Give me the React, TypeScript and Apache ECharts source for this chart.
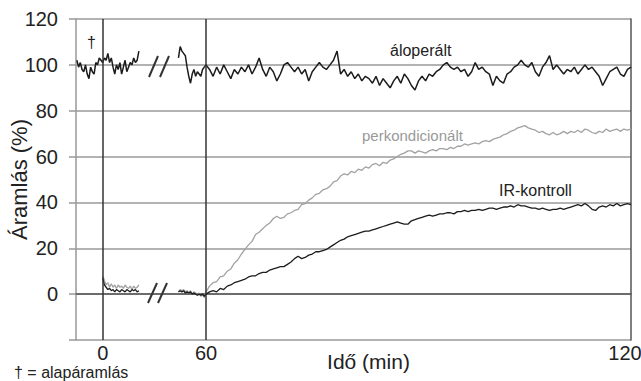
import React, { useEffect, useRef } from "react";
import * as echarts from "echarts";

// x tick positions (minutes) and their labels
const xTickTimes = [0, 60, 120];
const xTickLabels = ["0", "60", "120"];

// segment start times (min) and steps
const segAStart = -15; // sham baseline + early occlusion, step 1
const segAStep = 1;
const segIrAStart = 0;
const segBStart = 44; // after the axis break, step 1 up to 60
const segBStep = 1;
const segCStart = 60.5; // reperfusion, step 0.5
const segCStep = 0.5;

// áloperált (sham)
const shamA = [102, 99, 101, 98, 97, 100, 96, 94, 99, 97, 96, 101, 100, 103, 102, 101, 103, 102, 105, 101, 103, 99, 96, 100, 98, 101, 96, 99, 102, 97, 99, 101, 100, 103, 101, 102, 106];
const shamB = [103, 108, 106, 105, 104, 99, 95, 92, 96, 98, 95, 97, 96, 95, 98, 99, 100];
const shamC = [98, 95, 99, 96, 100, 97, 94, 98, 96, 99, 97, 100, 96, 99, 103, 98, 95, 99, 97, 93, 96, 100, 101, 99, 97, 99, 96, 98, 93, 97, 99, 101, 99, 98, 100, 102, 106, 96, 98, 95, 97, 94, 96, 93, 95, 94, 92, 95, 91, 94, 92, 90, 93, 95, 92, 96, 94, 91, 89, 93, 95, 93, 96, 95, 97, 98, 100, 101, 99, 98, 99, 97, 98, 95, 97, 101, 98, 99, 97, 96, 91, 95, 93, 92, 96, 97, 99, 100, 102, 100, 99, 101, 97, 95, 99, 101, 104, 98, 100, 98, 96, 98, 97, 99, 96, 98, 100, 98, 99, 97, 95, 91, 94, 97, 98, 99, 96, 95, 98, 99];

// IR-kontroll
const irA = [7, 4, 3, 2, 2.5, 1.5, 2, 1, 2, 1.5, 1, 2, 1.5, 1, 2, 1.5, 1, 2, 1.5, 2, 1, 1.5];
const irB = [1, 1.5, 1, 1.5, 0.5, 1, 0.5, 1, 0, 0.5, 0, -0.5, 0, -0.5, 0, -1, 0];
const irC = [1, 1.5, 1, 2.5, 2, 3.5, 4, 5, 5.5, 6, 6.5, 7.5, 8, 8, 9, 9.5, 9.5, 10.5, 11, 11.5, 12, 12, 13, 14, 15.5, 16.5, 15.5, 16, 17, 17.5, 18.5, 18.5, 19, 19.5, 20.5, 21.5, 22.5, 23.5, 24, 25, 25.5, 26, 26.5, 27, 27.5, 27.5, 28, 28.5, 29, 29.5, 30, 30.5, 31, 31.5, 31, 30.5, 30.5, 32, 32.5, 33, 33.5, 34, 34.5, 34, 34.5, 35, 35, 35.5, 35.5, 35, 36, 36, 36.5, 36, 36.5, 36.5, 37, 36.5, 37, 37.5, 37.5, 37, 37.5, 38, 38, 38.5, 38, 39, 38.5, 38.5, 38, 37.5, 37.5, 37, 37.5, 37, 36.5, 37, 37, 37.5, 37, 37.5, 38, 38.5, 39, 38.5, 39.5, 38.5, 37, 36.5, 38, 38.5, 38, 39, 38.5, 39.5, 38.5, 39, 39.5, 39];

// perkondicionált
const perkA = [8, 6, 4, 5, 3, 4.5, 3, 4, 2.5, 4, 3, 3.5, 2.5, 4, 3, 2.5, 3.5, 2, 3.5, 2.5, 3, 4];
const perkB = [1, 2, 1.5, 2, 1, 1.5, 0.5, 1.5, 0, 1, 0.5, -0.5, 0.5, -1, 0, -1.5, 1];
const perkC = [3.5, 5, 5.5, 7.5, 8, 10, 11, 13.5, 15, 17.5, 19.5, 21.5, 23, 26, 27, 28.5, 30, 31, 33, 34, 33, 33.5, 35, 35.5, 36.5, 37, 39, 39.5, 41, 42, 43.5, 44, 45.5, 46, 47, 49, 49.5, 51.5, 52.5, 52, 53.5, 53, 54.5, 54, 55.5, 55, 56.5, 57, 56, 57.5, 57, 58.5, 59, 60, 61, 61.5, 62.5, 62.5, 61.5, 62.5, 62, 61.5, 62.5, 63, 62.5, 63.5, 63.5, 63, 64, 63.5, 64.5, 64.5, 65.5, 65, 65.5, 66, 65.5, 66.5, 67, 66.5, 67.5, 68, 68.5, 69.5, 70, 71, 71.5, 72.5, 73, 73.5, 72.5, 72, 71.5, 70.5, 71, 70, 69.5, 70.5, 69.5, 70, 71, 70, 71, 70.5, 71.5, 70.5, 72, 71.5, 70.5, 70, 71, 70.5, 72, 71, 71.5, 72, 71, 72, 71.5, 72];

// broken time axis: 0–60 min compressed, 60–120 min expanded
const AX_MAX = 555;
function pos(t: number): number {
  return t <= 60 ? 26.7 + (t * 103.3) / 60 : 130 + ((t - 60) * 425) / 60;
}
function seg(start: number, step: number, vals: number[]) {
  return vals.map((v, i) => [pos(start + i * step), v]);
}

const FONT = "'Liberation Sans', Arial, sans-serif";

export default function App() {
  const ref = useRef<HTMLDivElement>(null);
  useEffect(() => {
    if (!ref.current) return;
    const chart = echarts.init(ref.current, undefined, { renderer: "svg" });
    const xPos = xTickTimes.map(pos);
    const black = "#1c1c1c";
    const gray = "#a2a2a2";
    const lineBase = { type: "line", showSymbol: false, symbol: "none", silent: true, animation: false };
    const slash = (x1: number, y1: number, x2: number, y2: number) => ({
      type: "line",
      shape: { x1, y1, x2, y2 },
      style: { stroke: "#333", lineWidth: 2 },
      z: 100,
    });
    chart.setOption({
      animation: false,
      backgroundColor: "#ffffff",
      textStyle: { fontFamily: FONT },
      grid: { left: 76, right: 10, top: 19, bottom: 41, containLabel: false, outerBoundsMode: "none" },
      xAxis: {
        type: "value",
        min: 0,
        max: AX_MAX,
        name: "Idő (min)",
        nameLocation: "middle",
        nameGap: 11,
        nameMoveOverlap: false,
        nameTextStyle: { fontSize: 21, color: "#222", fontFamily: FONT, padding: [0, 0, 0, 30] },
        axisLine: { show: true, lineStyle: { color: "#555", width: 1.5 } },
        axisTick: { show: false },
        splitLine: { show: false },
        axisLabel: {
          customValues: xPos,
          fontSize: 20,
          color: "#222",
          fontFamily: FONT,
          margin: 3,
          formatter: (v: number) => {
            let best = 0;
            xPos.forEach((p, i) => {
              if (Math.abs(p - v) < Math.abs(xPos[best] - v)) best = i;
            });
            return best === 2 ? "{r|" + xTickLabels[best] + "}" : xTickLabels[best];
          },
          rich: { r: { fontSize: 20, color: "#222", fontFamily: FONT, padding: [0, 12, 0, 0] } },
        },
      },
      yAxis: [
        {
          type: "value",
          min: -20,
          max: 120,
          interval: 20,
          name: "Áramlás (%)",
          nameLocation: "middle",
          nameGap: 46,
          nameMoveOverlap: false,
          nameTextStyle: { fontSize: 22, color: "#222", fontFamily: FONT },
          axisLine: { show: true, lineStyle: { color: "#999", width: 1.5 } },
          axisTick: { show: true, length: 7, lineStyle: { color: "#999", width: 1.5 } },
          splitLine: { show: true, lineStyle: { color: "#999", width: 1.5 } },
          axisLabel: {
            fontSize: 20,
            color: "#222",
            fontFamily: FONT,
            margin: 18,
            formatter: (v: number) => (v < 0 ? "" : String(v)),
          },
        },
        {
          type: "value",
          min: -20,
          max: 120,
          interval: 20,
          position: "right",
          axisLine: { show: true, lineStyle: { color: "#555", width: 1.5 } },
          axisTick: { show: false },
          axisLabel: { show: false },
          splitLine: { show: false },
        },
      ],
      series: [
        {
          ...lineBase,
          name: "perkondicionált A",
          data: seg(segIrAStart, segAStep, perkA),
          lineStyle: { color: gray, width: 1.3 },
          z: 2,
        },
        {
          ...lineBase,
          name: "perkondicionált",
          data: seg(segBStart, segBStep, perkB).concat(seg(segCStart, segCStep, perkC)),
          lineStyle: { color: gray, width: 1.3 },
          z: 2,
        },
        {
          ...lineBase,
          name: "IR-kontroll A",
          data: seg(segIrAStart, segAStep, irA),
          lineStyle: { color: black, width: 1.3 },
          z: 3,
        },
        {
          ...lineBase,
          name: "IR-kontroll",
          data: seg(segBStart, segBStep, irB).concat(seg(segCStart, segCStep, irC)),
          lineStyle: { color: black, width: 1.3 },
          z: 3,
        },
        {
          ...lineBase,
          name: "áloperált A",
          data: seg(segAStart, segAStep, shamA),
          lineStyle: { color: black, width: 1.5 },
          z: 4,
        },
        {
          ...lineBase,
          name: "áloperált",
          data: seg(segBStart, segBStep, shamB).concat(seg(segCStart, segCStep, shamC)),
          lineStyle: { color: black, width: 1.5 },
          z: 4,
          markLine: {
            silent: true,
            symbol: ["none", "none"],
            label: { show: false },
            lineStyle: { color: "#333", width: 1.5, type: "solid" },
            data: [{ xAxis: pos(0) }, { xAxis: pos(60) }],
          },
        },
      ],
      graphic: [
        { type: "text", left: 390, top: 42, style: { text: "áloperált", fontSize: 16, fill: "#222", fontFamily: FONT } },
        { type: "text", left: 362, top: 128, style: { text: "perkondicionált", fontSize: 15, fill: "#999", fontFamily: FONT } },
        { type: "text", left: 499, top: 182, style: { text: "IR-kontroll", fontSize: 16, fill: "#222", fontFamily: FONT } },
        { type: "text", left: 87, top: 34, style: { text: "†", fontSize: 16, fill: "#222", fontFamily: FONT } },
        { type: "text", left: 14, top: 364, style: { text: "† = alapáramlás", fontSize: 16, fill: "#222", fontFamily: FONT } },
        slash(149, 77, 158, 56),
        slash(160, 77, 169, 56),
        slash(148, 303, 157, 283),
        slash(158, 303, 167, 283),
      ],
    });
    return () => chart.dispose();
  }, []);
  return (
    <div
      ref={ref}
      style={{ position: "fixed", left: 0, top: 0, width: 641, height: 381, background: "#fff" }}
    />
  );
}
